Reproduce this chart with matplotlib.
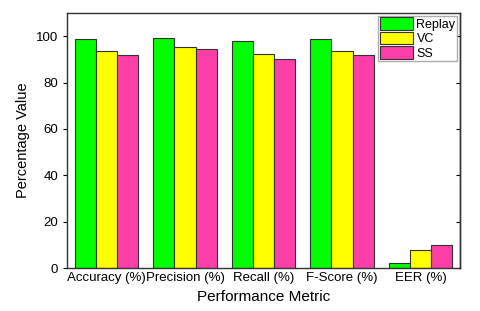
import numpy as np
from matplotlib import pyplot as plt

plt.rcParams['font.family'] = ['Liberation Sans', 'DejaVu Sans']

metrics = ['Accuracy (%)', 'Precision (%)', 'Recall (%)', 'F-Score (%)', 'EER (%)']
replay = [98.6, 99.4, 97.8, 98.6, 2.3]
vc = [93.7, 95.3, 92.2, 93.7, 7.8]
ss = [91.8, 94.3, 90.1, 92.1, 9.8]

fig = plt.figure(figsize=(4.8, 3.11), dpi=100)
ax = fig.add_axes([0.14, 0.138, 0.818, 0.82])

x = np.arange(len(metrics))
w = 0.27
ax.bar(x - w, replay, w, color='#00ff00', edgecolor='#333333', linewidth=0.8, label='Replay')
ax.bar(x, vc, w, color='#ffff00', edgecolor='#333333', linewidth=0.8, label='VC')
ax.bar(x + w, ss, w, color='#ff3fa8', edgecolor='#333333', linewidth=0.8, label='SS')

ax.set_xlim(-0.5, 4.5)
ax.set_ylim(0, 110)
ax.set_yticks([0, 20, 40, 60, 80, 100])
ax.set_xticks(x)
ax.set_xticklabels(metrics, fontsize=9.5)
ax.tick_params(axis='x', length=0, pad=3)
ax.tick_params(axis='y', labelsize=9.5, direction='out', length=3)
ax2 = ax.secondary_yaxis('right')
ax2.set_yticks([0, 20, 40, 60, 80, 100])
ax2.tick_params(direction='in', length=3, labelright=False)
for side in list(ax.spines.values()) + [ax2.spines['right']]:
    side.set_linewidth(1.0)
    side.set_color('#333333')

ax.set_xlabel('Performance Metric', fontsize=11)
ax.set_ylabel('Percentage Value', fontsize=10.5)

ax.legend(loc='upper right', fontsize=9, frameon=True, fancybox=False,
          edgecolor='#999999', handlelength=2.6, handleheight=1.2,
          handletextpad=0.3, borderpad=0.15, labelspacing=0.05,
          borderaxespad=0.2)

plt.savefig('out.png', dpi=100)
